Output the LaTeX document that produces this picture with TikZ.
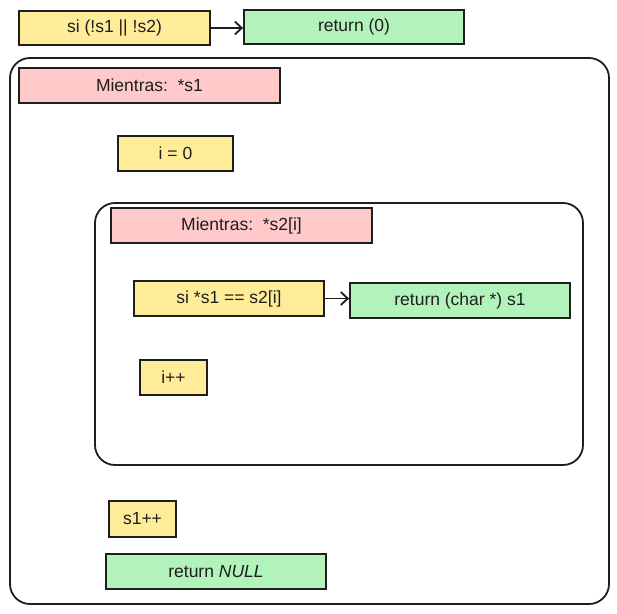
\documentclass[tikz,border=0pt]{standalone}
\usepackage{fontspec}
\setmainfont{Liberation Sans}
\usetikzlibrary{arrows.meta}
\definecolor{yel}{HTML}{FFEC99}
\definecolor{grn}{HTML}{B2F2BB}
\definecolor{redc}{HTML}{FFC9C9}
\definecolor{ink}{HTML}{1E1E1E}
\tikzset{
  box/.style={draw=ink, line width=1.8pt, inner sep=0pt, font=\fontsize{17.5}{20}\selectfont, text=ink},
  cond/.style={box, fill=yel},
  ret/.style={box, fill=grn},
  loop/.style={box, fill=redc},
  frame/.style={draw=ink, line width=1.8pt, rounded corners=20pt},
  conn/.style={draw=ink, line width=1.8pt, -{Straight Barb[length=7pt,width=13pt,line width=1.8pt]}}
}
\begin{document}
\begin{tikzpicture}[x=1pt,y=-1pt]
\useasboundingbox (0,0) rectangle (617,613);
\node[cond, minimum width=191pt, minimum height=34pt] (c1) at (114.5,28) {si (!s1 || !s2)};
\node[ret, minimum width=220pt, minimum height=34pt] (r0) at (354,27) {return (0)};
\draw[conn] (c1.east) -- (c1.east -| r0.west);
\draw[frame] (10,58) rectangle (609,604);
\node[loop, minimum width=261pt, minimum height=35pt] (m1) at (149.5,85.5) {Mientras:\ \ *s1};
\node[cond, minimum width=115pt, minimum height=35pt] (i0) at (175.5,153.5) {i = 0};
\draw[frame] (95,203) rectangle (583,465);
\node[loop, minimum width=261pt, minimum height=35pt] (m2) at (241.5,225.5) {Mientras:\ \ *s2[i]};
\node[cond, minimum width=190pt, minimum height=35pt] (c2) at (229,298.5) {si *s1 == s2[i]};
\node[ret, minimum width=220pt, minimum height=35pt] (r1) at (460,300.5) {return (char *) s1};
\draw[conn] (c2.east) -- (c2.east -| r1.west);
\node[cond, minimum width=67pt, minimum height=35pt] (ipp) at (173.5,377.5) {i++};
\node[cond, minimum width=67pt, minimum height=36pt] (s1pp) at (142.5,519) {s1++};
\node[ret, minimum width=220pt, minimum height=35pt] (rn) at (216,571.5) {return \textit{NULL}};
\end{tikzpicture}
\end{document}
